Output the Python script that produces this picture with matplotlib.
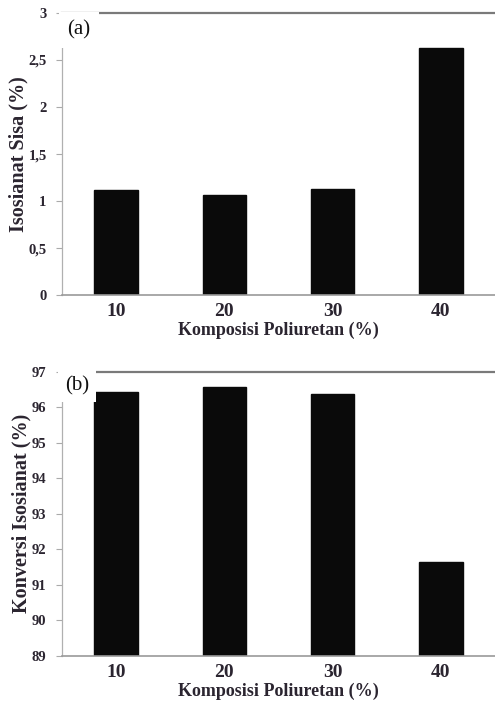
import matplotlib.pyplot as plt

# data
komposisi = ['10', '20', '30', '40']
isosianat_sisa = [1.12, 1.06, 1.13, 2.63]
konversi = [96.43, 96.58, 96.37, 91.65]

ticks_a = [0, 0.5, 1, 1.5, 2, 2.5, 3]
ticklab_a = ['0', '0,5', '1', '1,5', '2', '2,5', '3']
ticks_b = [89, 90, 91, 92, 93, 94, 95, 96, 97]

plt.rcParams['font.family'] = ['Liberation Serif', 'DejaVu Serif']
txt = '#2b2530'

fig = plt.figure(figsize=(4.95, 7.01), dpi=100)
ax1 = fig.add_axes([0.125, 0.579, 0.875, 0.4025])
ax2 = fig.add_axes([0.125, 0.0642, 0.875, 0.4056])


def style(ax, vals, ylim, yticks, ylabels, ylab):
    x = range(len(vals))
    ax.bar(x, vals, width=0.4, color='#0a0a0a', edgecolor='#0a0a0a')
    ax.set_xlim(-0.5, 3.5)
    ax.set_ylim(*ylim)
    ax.set_xticks(list(x))
    ax.set_xticklabels(komposisi, fontsize=14, fontweight='bold', color=txt)
    ax.set_yticks(yticks)
    ax.set_yticklabels(ylabels, fontsize=10.5, fontweight='bold', color=txt)
    ax.tick_params(axis='x', length=0, pad=6)
    ax.tick_params(axis='y', length=4, width=0.8, color='#aaaaaa', pad=7)
    ax.set_xlabel('Komposisi Poliuretan (%)', fontsize=13, fontweight='bold',
                  color=txt, labelpad=1)
    ax.set_ylabel(ylab, fontsize=14.5, fontweight='bold', color=txt, labelpad=0)
    ax.spines['right'].set_visible(False)
    ax.spines['top'].set_color('#7a7a7a')
    ax.spines['top'].set_linewidth(1.6)
    ax.spines['left'].set_color('#b0b0b0')
    ax.spines['left'].set_linewidth(0.9)
    ax.spines['bottom'].set_color('#9a9a9a')
    ax.spines['bottom'].set_linewidth(1.2)
    return ax


style(ax1, isosianat_sisa, (0, 3), ticks_a, ticklab_a, 'Isosianat Sisa (%)')
style(ax2, konversi, (89, 97), ticks_b, [str(t) for t in ticks_b],
      'Konversi Isosianat (%)')

ax1.text(0.012, 0.975, '(a)', transform=ax1.transAxes, fontsize=15, color='#111111',
         va='top', ha='left', zorder=10,
         bbox=dict(facecolor='white', edgecolor='none', pad=6))
ax2.text(0.008, 0.985, '(b)', transform=ax2.transAxes, fontsize=15, color='#111111',
         va='top', ha='left', zorder=10,
         bbox=dict(facecolor='white', edgecolor='none', pad=5))

fig.savefig('out.png', dpi=100)
